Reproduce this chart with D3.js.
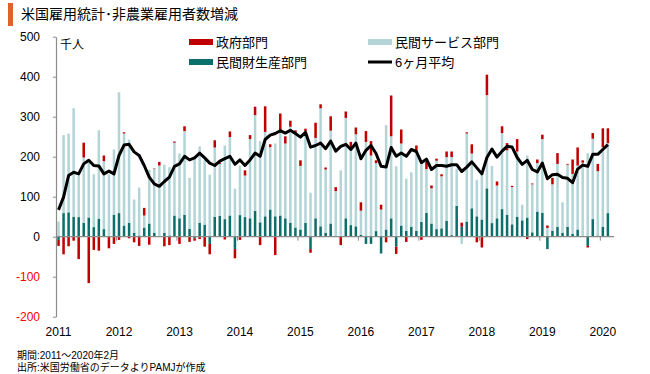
<!DOCTYPE html>
<html>
<head>
<meta charset="utf-8" />
<title>米国雇用統計・非農業雇用者数増減</title>
<script src="https://d3js.org/d3.v7.min.js"></script>
<style>
  body { margin: 0; background: #fff; }
  text { font-family: "Liberation Sans", "Noto Sans CJK JP", sans-serif; }
</style>
</head>
<body>
<svg width="650" height="374"></svg>
<script>
// year labels, one per January
const years = ["2011", "2012", "2013", "2014", "2015", "2016", "2017", "2018", "2019", "2020"];

// monthly change, thousands (Jan 2011 - Feb 2020)
const goods = [
  -8, 59, 61, 50, 49, 35, 48, 24, 45, 19, 2, 55,
  59, 28, 35, 10, 3, 23, 33, 10, 2, 10, 3, 53,
  46, 55, 20, -4, 35, 30, -18, 50, 52, 44, 53, -31,
  54, 49, 46, 65, 36, 51, 68, 51, 53, 46, 35, 23,
  18, 35, -31, 46, 26, 10, 33, 2, 2, 46, 29, 26,
  5, -18, -18, 14, -42, 18, 46, -25, 28, 15, 25, 15,
  37, 60, 33, 19, 21, 40, 4, 77, 25, 38, 71, 51,
  43, 121, 34, 46, 69, 55, 31, 50, 41, 48, 11, 63,
  60, -31, 15, 25, 10, 25, 7, 18, 2, -23, 44, 3,
  25, 59
];
const services = [
  38, 195, 197, 271, 104, 163, 141, 132, 221, 170, 154, 163,
  302, 230, 208, 83, 120, 30, 134, 160, 176, 170, 171, 182,
  162, 209, 127, 195, 191, 162, 155, 173, 130, 184, 196, 120,
  124, 104, 198, 239, 203, 211, 156, 182, 213, 187, 240, 235,
  159, 229, 110, 201, 295, 158, 232, 112, 164, 251, 194, 230,
  60, 237, 203, 170, 68, 261, 205, 176, 205, 130, 136, 201,
  144, 109, 88, 171, 130, 159, 195, 93, -18, 220, 137, 91,
  113, 233, 143, 82, 190, 161, 93, 163, 39, 155, 120, 121,
  184, 22, 116, 157, 76, 155, 150, 160, 183, 209, 201, 161,
  199, 175
];
const government = [
  -15, -44, -24, -10, -56, 37, -116, -33, -35, 14, -29, -18,
  -8, 3, -4, -14, -23, 19, -20, 1, 9, -24, -21, 3,
  -18, 12, -13, -6, -6, -25, -26, 18, 3, -7, 14, -23,
  -8, 13, 10, 21, -21, 64, 7, -46, 42, 18, 15, 8,
  14, 6, -9, 38, 10, 5, 36, 10, -21, 16, 14, 17,
  21, 27, 36, 7, 12, -14, 102, -18, 35, -13, 0, 12,
  -8, 18, 7, 5, 5, 14, 14, 0, 10, 3, 23, -14,
  -27, 51, 0, 10, 17, 18, 3, 31, 0, -6, 2, 9,
  11, 6, 16, 27, 0, 2, 36, 45, 6, -4, 14, 18,
  47, 37
];
// 6-month average line
const avg6 = [
  67, 99, 153, 161, 157, 182, 191, 178, 177, 157, 164, 157,
  203, 229, 231, 212, 203, 178, 149, 132, 126, 138, 149, 176,
  182, 201, 192, 197, 209, 197, 184, 178, 189, 195, 201, 181,
  192, 178, 192, 209, 201, 243, 254, 258, 265, 259, 266, 258,
  249, 261, 224, 228, 234, 220, 239, 214, 226, 231, 218, 234,
  195, 216, 228, 208, 176, 174, 223, 201, 209, 201, 218, 213,
  185, 194, 168, 178, 178, 176, 180, 180, 163, 174, 187, 172,
  157, 198, 219, 199, 214, 226, 224, 198, 181, 191, 168, 162,
  184, 145, 155, 156, 148, 146, 135, 169, 179, 176, 206, 206,
  218, 230
];
const yTicks = [500, 400, 300, 200, 100, 0, -100, -200];

const colors = { goods: "#0d6f6b", services: "#b4d5d8", government: "#c00000" };

const svg = d3.select("svg");

const rows = goods.map((g, i) => ({ i: i, goods: g, services: services[i], government: government[i] }));

const x = d3.scaleBand()
  .domain(d3.range(rows.length))
  .range([56, 56 + rows.length * 5.04])
  .paddingInner(0.5)
  .paddingOuter(0.25);
const y = d3.scaleLinear().domain([-200, 500]).range([316.7, 36.7]);
const cx = (i) => x(i) + x.bandwidth() / 2;

// title
svg.append("rect").attr("x", 8).attr("y", 3).attr("width", 5).attr("height", 23).attr("fill", "#e0622a");
svg.append("text").attr("x", 21).attr("y", 19).attr("font-size", 14).text("米国雇用統計･非農業雇用者数増減");

// bars (stacked, negatives stack downward)
const stack = d3.stack()
  .keys(["goods", "services", "government"])
  .offset(d3.stackOffsetDiverging);
const series = stack(rows);

svg.append("g")
  .selectAll("g")
  .data(series)
  .join("g")
  .attr("fill", (s) => colors[s.key])
  .selectAll("rect")
  .data((s) => s)
  .join("rect")
  .attr("x", (d) => x(d.data.i))
  .attr("width", x.bandwidth())
  .attr("y", (d) => y(Math.max(d[0], d[1])))
  .attr("height", (d) => Math.abs(y(d[0]) - y(d[1])));

// zero line with year ticks
const zeroY = y(0);
svg.append("line")
  .attr("x1", 56).attr("x2", 614)
  .attr("y1", zeroY).attr("y2", zeroY)
  .attr("stroke", "#8c8c8c").attr("stroke-width", 1.2);
svg.append("g")
  .selectAll("line")
  .data(years.slice(1))
  .join("line")
  .attr("x1", (d, k) => 56 + (k + 1) * 12 * 5.04)
  .attr("x2", (d, k) => 56 + (k + 1) * 12 * 5.04)
  .attr("y1", zeroY).attr("y2", zeroY + 4)
  .attr("stroke", "#8c8c8c");

// y axis
const yAxis = svg.append("g")
  .attr("transform", "translate(56,0)")
  .call(d3.axisLeft(y).tickValues(yTicks).tickSize(3).tickSizeOuter(0).tickPadding(13).tickFormat(d3.format("d")));
yAxis.select(".domain").attr("stroke", "#8c8c8c").attr("stroke-width", 1.2);
yAxis.selectAll(".tick line").attr("stroke", "#8c8c8c");
yAxis.selectAll(".tick text")
  .attr("font-size", 12)
  .attr("font-family", "Liberation Sans, sans-serif")
  .attr("fill", (d) => (d < 0 ? "#ff0000" : "#000"))
  .text((d) => (d < 0 ? "-" + Math.abs(d) : d));

svg.append("text").attr("x", 60).attr("y", 49).attr("font-size", 12).text("千人");

// x labels
svg.append("g")
  .selectAll("text")
  .data(years)
  .join("text")
  .attr("x", (d, k) => cx(k * 12))
  .attr("y", 336)
  .attr("text-anchor", "middle")
  .attr("font-size", 12)
  .text((d) => d);

// 6-month average line
const line = d3.line().x((d, i) => cx(i)).y((d) => y(d));
svg.append("path")
  .datum(avg6)
  .attr("d", line)
  .attr("fill", "none")
  .attr("stroke", "#000")
  .attr("stroke-width", 3)
  .attr("stroke-linejoin", "round");

// legend
const legend = [
  { label: "政府部門", color: colors.government, x: 189, y: 42, kind: "rect" },
  { label: "民間財生産部門", color: colors.goods, x: 189, y: 62, kind: "rect" },
  { label: "民間サービス部門", color: colors.services, x: 368, y: 42, kind: "rect" },
  { label: "6ヶ月平均", color: "#000", x: 368, y: 62, kind: "line" }
];
const lg = svg.append("g").selectAll("g").data(legend).join("g");
lg.filter((d) => d.kind === "rect")
  .append("rect")
  .attr("x", (d) => d.x).attr("y", (d) => d.y - 3)
  .attr("width", 24).attr("height", 6)
  .attr("fill", (d) => d.color);
lg.filter((d) => d.kind === "line")
  .append("line")
  .attr("x1", (d) => d.x).attr("x2", (d) => d.x + 24)
  .attr("y1", (d) => d.y).attr("y2", (d) => d.y)
  .attr("stroke", "#000").attr("stroke-width", 3);
lg.append("text")
  .attr("x", (d) => d.x + 27)
  .attr("y", (d) => d.y + 5)
  .attr("font-size", 13)
  .text((d) => d.label);

// footer
svg.append("text").attr("x", 17).attr("y", 359).attr("font-size", 10).text("期間:2011～2020年2月");
svg.append("text").attr("x", 17).attr("y", 371).attr("font-size", 10).text("出所:米国労働省のデータよりPAMJが作成");
</script>
</body>
</html>
